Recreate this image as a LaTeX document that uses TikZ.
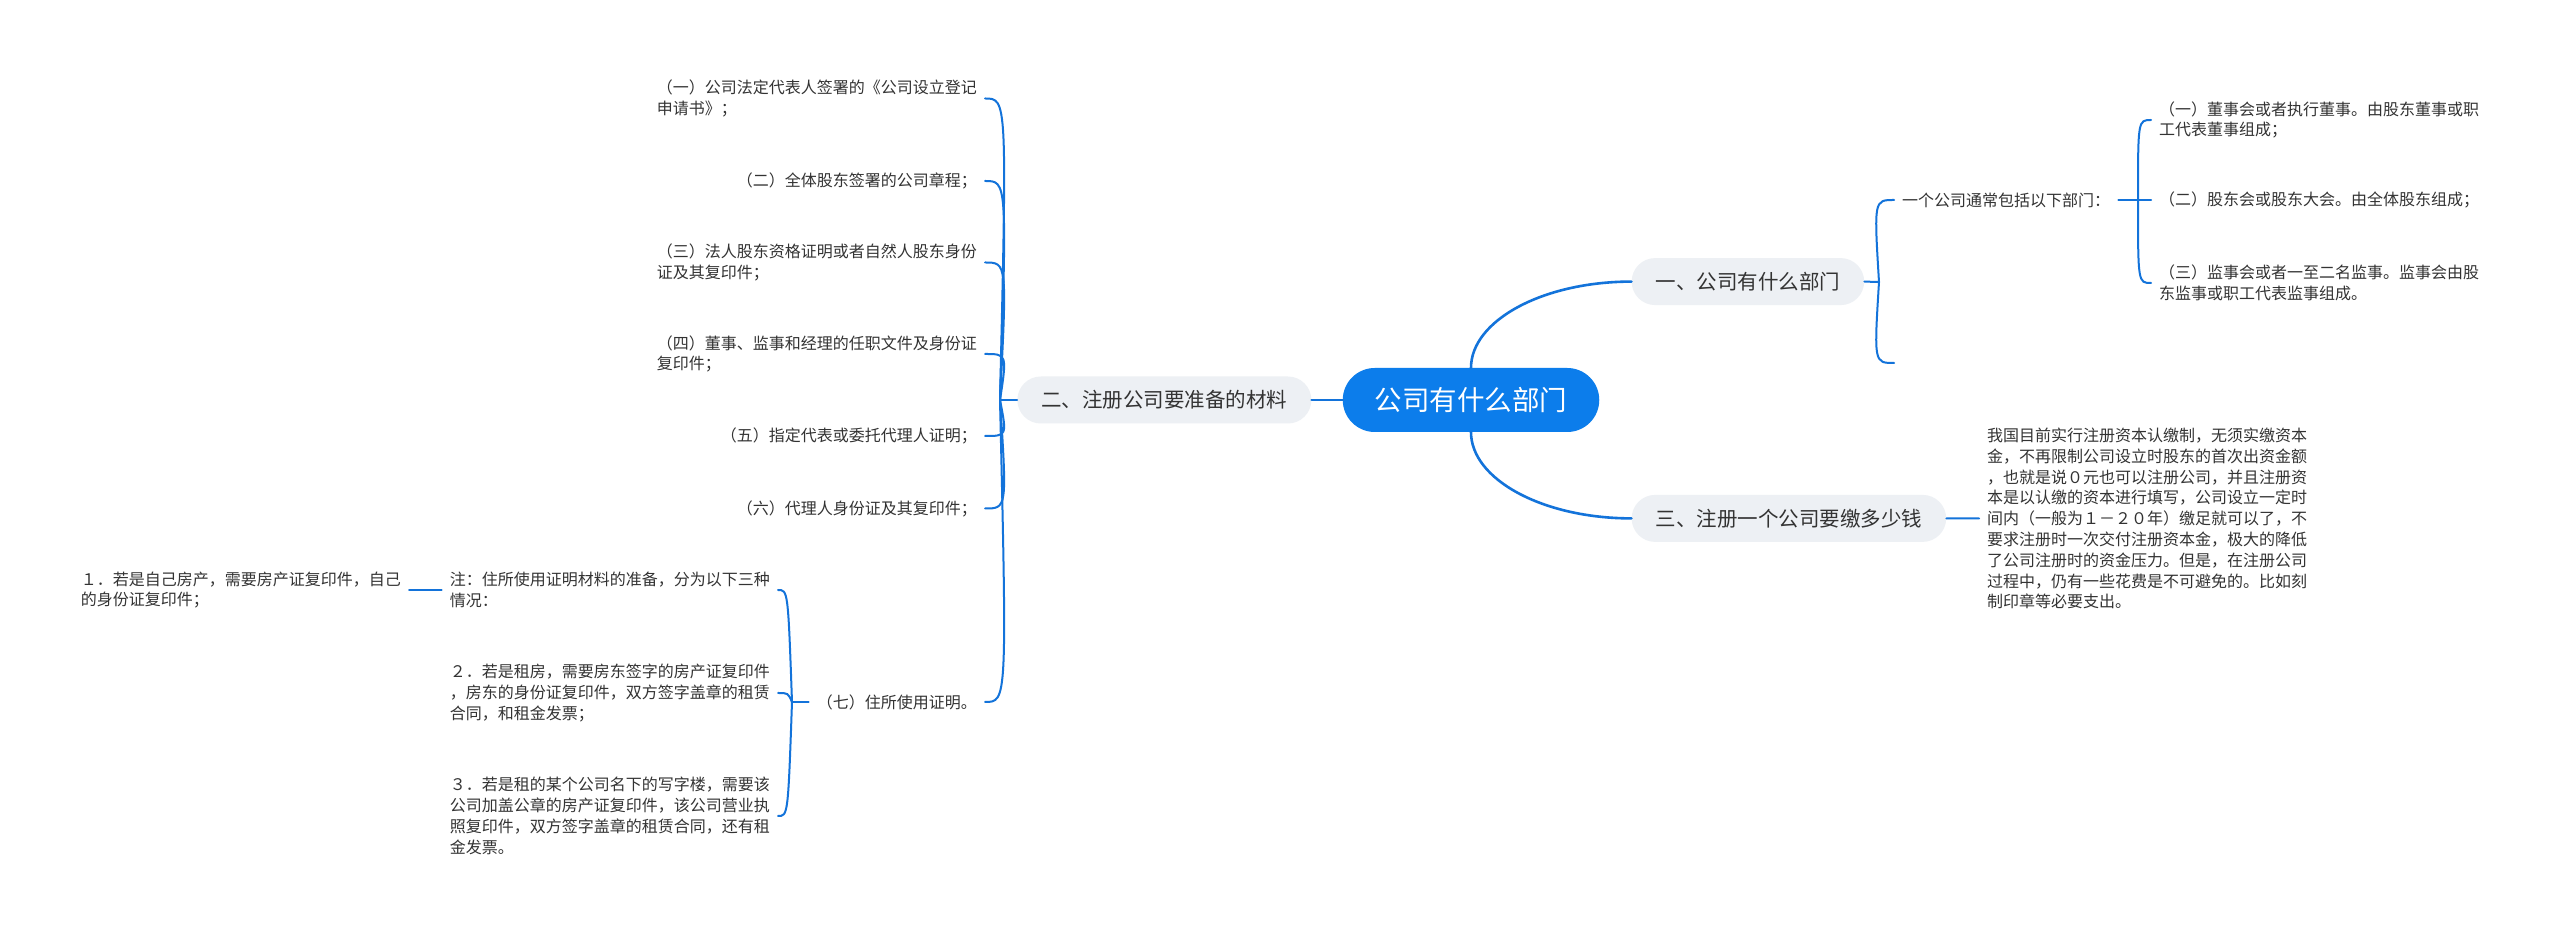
\documentclass[tikz,border=0pt]{standalone}
\usepackage{fontspec}
\usepackage{tikz}
\usetikzlibrary{positioning,calc}
\newfontfamily\cjk{Noto Sans CJK SC}
\definecolor{mmblue}{RGB}{19,115,218}
\definecolor{mmroot}{RGB}{12,125,235}
\definecolor{mmgray}{RGB}{237,240,244}
\definecolor{mmtext}{RGB}{51,51,51}

\begin{document}
\begin{tikzpicture}[x=1pt, y=1pt,
  root/.style={rectangle, rounded corners=32pt, fill=mmroot, text=white,
              minimum height=64pt, inner xsep=32pt, inner ysep=0pt,
              font=\cjk\fontsize{27.5pt}{32pt}\selectfont},
  topic/.style={rectangle, rounded corners=23.5pt, fill=mmgray, text=mmtext,
              minimum height=47pt, inner xsep=24pt, inner ysep=0pt,
              font=\cjk\fontsize{20.5pt}{24pt}\selectfont},
  leaf/.style={align=left, text=mmtext, inner xsep=8pt, inner ysep=2pt,
              font=\cjk\fontsize{16pt}{20.8pt}\selectfont},
  link/.style={draw=mmblue, line width=2pt, line cap=round},
  mainlink/.style={link, line width=2.6pt},
  elbow/.style={to path={.. controls ($(\tikztostart|-\tikztotarget)+(#1,0)$)
              and ($(\tikztostart|-\tikztotarget)+(#1,0)$) .. (\tikztotarget)}},
  elbow/.default=0pt]
\fill[white] (0,0) rectangle (2560,934);
\useasboundingbox (0,0) rectangle (2560,934);

\node[root] (root) at (1471,534) {公司有什么部门};
\node[topic, above right=62.5pt and 32pt of root] (b1) {一、公司有什么部门};
\node[topic, left=31pt of root] (b2) {二、注册公司要准备的材料};
\node[topic, below right=62.5pt and 32pt of root] (b3) {三、注册一个公司要缴多少钱};
\draw[mainlink] (root.north) .. controls +(0,47) and +(-89,0) .. (b1.west);
\draw[mainlink] (root.south) .. controls +(0,-47) and +(-89,0) .. (b3.west);
\draw[mainlink] (root.west) -- (b2.east);

% materials to prepare
\coordinate (j2) at (1000,534);
\node[leaf, anchor=east] (c1) at (985,835.5) {（一）公司法定代表人签署的《公司设立登记\\申请书》；};
\node[leaf, anchor=east] (c2) at (985,753) {（二）全体股东签署的公司章程；};
\node[leaf, anchor=east] (c3) at (985,671.5) {（三）法人股东资格证明或者自然人股东身份\\证及其复印件；};
\node[leaf, anchor=east] (c4) at (985,580) {（四）董事、监事和经理的任职文件及身份证\\复印件；};
\node[leaf, anchor=east] (c5) at (985,498) {（五）指定代表或委托代理人证明；};
\node[leaf, anchor=east] (c6) at (985,425.5) {（六）代理人身份证及其复印件；};
\node[leaf, anchor=east] (c7) at (985,232) {（七）住所使用证明。};
\draw[link] (b2.west) -- (j2);
\draw[link] (j2) to[elbow=7pt] (c1.east);
\draw[link] (j2) to[elbow=7pt] (c2.east);
\draw[link] (j2) to[elbow=7pt] (c3.east);
\draw[link] (j2) to[elbow=7pt] (c4.east);
\draw[link] (j2) to[elbow=7pt] (c5.east);
\draw[link] (j2) to[elbow=7pt] (c6.east);
\draw[link] (j2) to[elbow=7pt] (c7.east);

% proof of address
\coordinate (j7) at (792,232);
\node[leaf, anchor=east] (n0) at (778,344) {注：住所使用证明材料的准备，分为以下三种\\情况：};
\node[leaf, anchor=east] (r2) at (778,241) {２．若是租房，需要房东签字的房产证复印件\\，房东的身份证复印件，双方签字盖章的租赁\\合同，和租金发票；};
\node[leaf, anchor=east] (r3) at (778,118) {３．若是租的某个公司名下的写字楼，需要该\\公司加盖公章的房产证复印件，该公司营业执\\照复印件，双方签字盖章的租赁合同，还有租\\金发票。};
\node[leaf, anchor=east] (one) at (409,344) {１．若是自己房产，需要房产证复印件，自己\\的身份证复印件；};
\draw[link] (c7.west) -- (j7);
\draw[link] (j7) to[elbow=-4pt] (n0.east);
\draw[link] (j7) to[elbow=-4pt] (r2.east);
\draw[link] (j7) to[elbow=-4pt] (r3.east);
\draw[link] (n0.west) -- (one.east);

% departments
\coordinate (j1) at (1879,652);
\node[leaf, anchor=west] (d0) at (1894,734) {一个公司通常包括以下部门：};
\coordinate (d1) at (1894,571);
\draw[link] (b1.east) -- (j1);
\draw[link] (j1) to[elbow=-5pt] (d0.west);
\draw[link] (j1) to[elbow=-5pt] (d1);
\coordinate (jd) at (2138,734);
\node[leaf, anchor=west] (e1) at (2151,814) {（一）董事会或者执行董事。由股东董事或职\\工代表董事组成；};
\node[leaf, anchor=west] (e2) at (2151,734) {（二）股东会或股东大会。由全体股东组成；};
\node[leaf, anchor=west] (e3) at (2151,651) {（三）监事会或者一至二名监事。监事会由股\\东监事或职工代表监事组成。};
\draw[link] (d0.east) -- (jd);
\draw[link] (jd) to[elbow] (e1.west);
\draw[link] (jd) -- (e2.west);
\draw[link] (jd) to[elbow] (e3.west);

% registered capital
\node[leaf, anchor=west] (p3) at (1979,415.5) {我国目前实行注册资本认缴制，无须实缴资本\\金，不再限制公司设立时股东的首次出资金额\\，也就是说０元也可以注册公司，并且注册资\\本是以认缴的资本进行填写，公司设立一定时\\间内（一般为１－２０年）缴足就可以了，不\\要求注册时一次交付注册资本金，极大的降低\\了公司注册时的资金压力。但是，在注册公司\\过程中，仍有一些花费是不可避免的。比如刻\\制印章等必要支出。};
\draw[link] (b3.east) -- (p3.west);
\end{tikzpicture}
\end{document}
